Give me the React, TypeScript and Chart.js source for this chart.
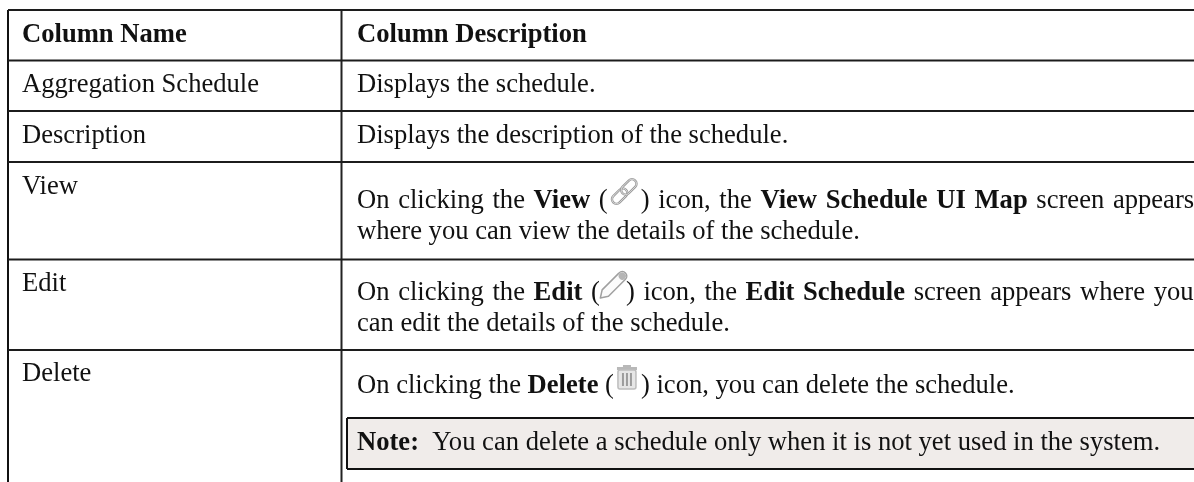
import React, { useEffect, useRef } from "react";
import { Chart, registerables } from "chart.js";

Chart.register(...registerables);

// The reference is a table: its content is text, with no numeric series.
const columnNames = ["Column Name", "Column Description"];
const rowNames = ["Aggregation Schedule", "Description", "View", "Edit", "Delete"];

type Run = { t?: string; b?: boolean; icon?: "link" | "pencil" | "trash" };
const aggregationText: Run[] = [{ t: "Displays the schedule." }];
const descriptionText: Run[] = [{ t: "Displays the description of the schedule." }];
const viewLine1: Run[] = [
  { t: "On clicking the " }, { t: "View", b: true }, { t: " (" }, { icon: "link" }, { t: ") icon, the " },
  { t: "View Schedule UI Map", b: true }, { t: " screen appears" },
];
const viewLine2: Run[] = [{ t: "where you can view the details of the schedule." }];
const editLine1: Run[] = [
  { t: "On clicking the " }, { t: "Edit", b: true }, { t: " (" }, { icon: "pencil" }, { t: ") icon, the " },
  { t: "Edit Schedule", b: true }, { t: " screen appears where you" },
];
const editLine2: Run[] = [{ t: "can edit the details of the schedule." }];
const deleteLine1: Run[] = [
  { t: "On clicking the " }, { t: "Delete", b: true }, { t: " (" }, { icon: "trash" }, { t: ") icon, you can delete the schedule." },
];
const noteLine: Run[] = [{ t: "Note:", b: true }, { t: "  You can delete a schedule only when it is not yet used in the system." }];

// Layout of the table, in the page's pixel units
const W = 1194, H = 482;
const FONT = '"Liberation Serif"';
const SIZE = 26.6;
const iconWidths: Record<string, number> = { link: 33, pencil: 26, trash: 27 };
const colLeft = 8, colSplit = 341.5;
const rowRules = [10, 60.5, 111, 162, 259.5, 350];
const textCol1 = 22, textCol2 = 357;
const noteBox = { l: 347, r: 1194, t: 418, b: 469 };

type Line = { runs: Run[]; x: number; y: number; ws?: number };
const lines: Line[] = [
  { runs: [{ t: columnNames[0], b: true }], x: textCol1, y: 42 },
  { runs: [{ t: columnNames[1], b: true }], x: textCol2, y: 42 },
  { runs: [{ t: rowNames[0] }], x: textCol1, y: 92 },
  { runs: aggregationText, x: textCol2, y: 92 },
  { runs: [{ t: rowNames[1] }], x: textCol1, y: 143 },
  { runs: descriptionText, x: textCol2, y: 143 },
  { runs: [{ t: rowNames[2] }], x: textCol1, y: 194 },
  { runs: viewLine1, x: textCol2, y: 208, ws: 2 },
  { runs: viewLine2, x: textCol2, y: 239 },
  { runs: [{ t: rowNames[3] }], x: textCol1, y: 291 },
  { runs: editLine1, x: textCol2, y: 300, ws: 2 },
  { runs: editLine2, x: textCol2, y: 331 },
  { runs: [{ t: rowNames[4] }], x: textCol1, y: 381 },
  { runs: deleteLine1, x: textCol2, y: 393 },
  { runs: noteLine, x: textCol2, y: 450 },
];

function drawIcon(ctx: CanvasRenderingContext2D, kind: string, x: number, baseline: number) {
  ctx.save();
  ctx.lineCap = "round";
  ctx.lineJoin = "round";
  ctx.filter = "blur(0.5px)";
  if (kind === "link") {
    ctx.translate(x + 16.5, baseline - 16.5);
    ctx.rotate(-Math.PI / 4);
    for (const dx of [-6.5, 6.5]) {
      ctx.beginPath();
      ctx.roundRect(dx - 9, -4.5, 18, 9, 4.5);
      ctx.strokeStyle = "#9a9a9a";
      ctx.lineWidth = 2.4;
      ctx.stroke();
      ctx.strokeStyle = "#ececec";
      ctx.lineWidth = 0.7;
      ctx.stroke();
    }
  } else if (kind === "pencil") {
    ctx.translate(x + 12.5, baseline - 14);
    ctx.rotate(-Math.PI / 4);
    ctx.beginPath();
    ctx.moveTo(-17, 0);
    ctx.lineTo(-10, -4.5);
    ctx.lineTo(13, -4.5);
    ctx.arc(14, 0, 4.5, -Math.PI / 2, Math.PI / 2);
    ctx.lineTo(-10, 4.5);
    ctx.closePath();
    ctx.fillStyle = "#fbfbfb";
    ctx.fill();
    ctx.strokeStyle = "#a0a0a0";
    ctx.lineWidth = 1.5;
    ctx.stroke();
    ctx.beginPath();
    ctx.arc(14, 0, 3.6, 0, Math.PI * 2);
    ctx.fillStyle = "#b5b5b5";
    ctx.fill();
  } else {
    ctx.translate(x + 3, baseline - 28);
    ctx.fillStyle = "#b8b8b8";
    ctx.fillRect(6, 0, 8, 2);
    ctx.fillRect(0, 2, 20, 3);
    ctx.beginPath();
    ctx.roundRect(1, 5, 18, 19, 2);
    ctx.fillStyle = "#e6e6e6";
    ctx.fill();
    ctx.strokeStyle = "#bdbdbd";
    ctx.lineWidth = 1.5;
    ctx.stroke();
    ctx.fillStyle = "#9c9c9c";
    for (const px of [5, 9, 13]) ctx.fillRect(px, 8, 2, 13);
  }
  ctx.restore();
}

const tablePlugin = {
  id: "tableText",
  beforeDatasetsDraw(chart: any) {
    const { ctx, scales } = chart;
    const X = (v: number) => scales.x.getPixelForValue(v);
    const Y = (v: number) => scales.y.getPixelForValue(v);
    ctx.save();
    ctx.fillStyle = "#f0ecea";
    ctx.fillRect(X(noteBox.l), Y(noteBox.t), X(noteBox.r) - X(noteBox.l), Y(noteBox.b) - Y(noteBox.t));
    ctx.restore();
  },
  afterDatasetsDraw(chart: any) {
    const { ctx, scales } = chart;
    const X = (v: number) => scales.x.getPixelForValue(v);
    const Y = (v: number) => scales.y.getPixelForValue(v);
    ctx.save();
    ctx.textBaseline = "alphabetic";
    ctx.textAlign = "left";
    ctx.filter = "blur(0.3px)";
    for (const line of lines) {
      let cx = X(line.x);
      ctx.wordSpacing = `${line.ws ?? 0}px`;
      for (const run of line.runs) {
        if (run.icon) {
          drawIcon(ctx, run.icon, cx, Y(line.y));
          cx += iconWidths[run.icon];
          continue;
        }
        ctx.font = `${run.b ? "bold " : ""}${SIZE}px ${FONT}`;
        ctx.fillStyle = "#111111";
        ctx.fillText(run.t!, cx, Y(line.y));
        cx += ctx.measureText(run.t!).width;
      }
    }
    ctx.restore();
  },
};

const rule = (pts: number[][], width: number, color: string) => ({
  type: "scatter" as const,
  data: pts.map(([x, y]) => ({ x, y })),
  showLine: true,
  borderColor: color,
  borderWidth: width,
  pointRadius: 0,
});

export default function App() {
  const ref = useRef<HTMLCanvasElement>(null);
  useEffect(() => {
    const datasets = [
      ...rowRules.map((y) => rule([[colLeft, y], [W, y]], 2, "#1c1c1c")),
      rule([[colLeft, rowRules[0]], [colLeft, H]], 2, "#111111"),
      rule([[colSplit, rowRules[0]], [colSplit, H]], 2, "#222222"),
      rule([[noteBox.l, noteBox.t], [noteBox.r, noteBox.t]], 2, "#111111"),
      rule([[noteBox.l, noteBox.b], [noteBox.r, noteBox.b]], 2, "#111111"),
      rule([[noteBox.l, noteBox.t], [noteBox.l, noteBox.b]], 2, "#111111"),
    ];
    const chart = new Chart(ref.current!, {
      type: "scatter",
      data: { datasets },
      plugins: [tablePlugin],
      options: {
        animation: false,
        responsive: false,
        layout: { padding: 0 },
        plugins: { legend: { display: false }, tooltip: { enabled: false }, title: { display: false } },
        scales: {
          x: { type: "linear", display: false, min: 0, max: W },
          y: { type: "linear", display: false, min: 0, max: H, reverse: true },
        },
      },
    } as any);
    return () => chart.destroy();
  }, []);
  return (
    <div style={{ position: "fixed", left: 0, top: 0, width: W, height: H, background: "#fff", overflow: "hidden" }}>
      <canvas ref={ref} width={W} height={H} style={{ display: "block" }} />
    </div>
  );
}
